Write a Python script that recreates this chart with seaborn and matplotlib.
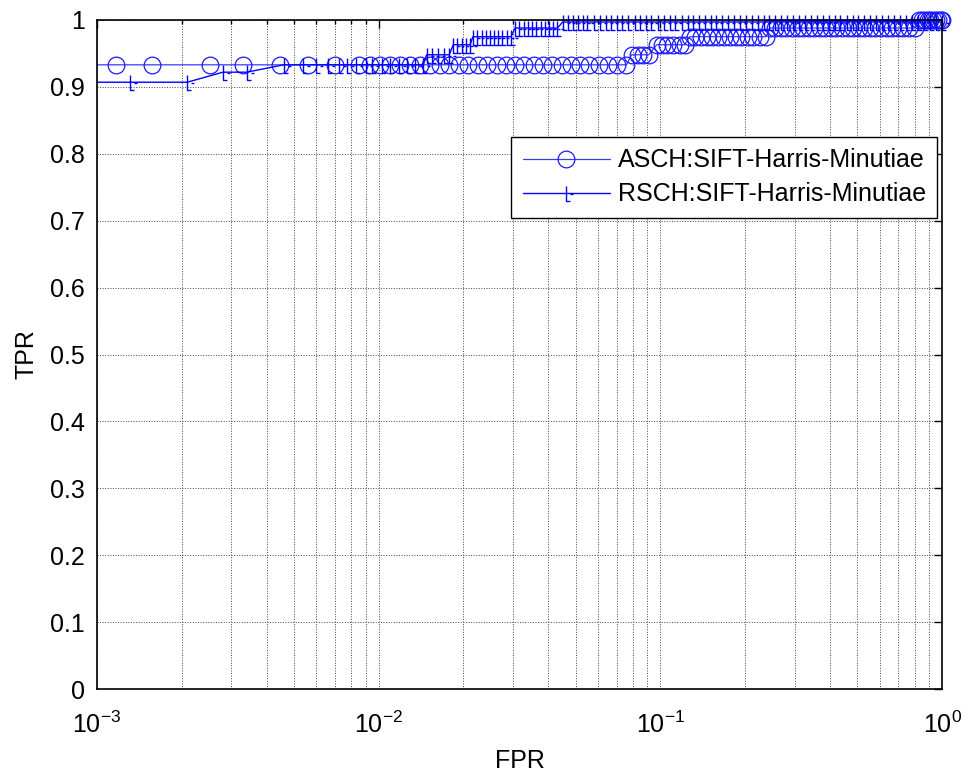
import matplotlib
matplotlib.use("Agg")
import matplotlib.pyplot as plt
from matplotlib.path import Path
import seaborn as sns

# ROC points (FPR on a log axis, TPR linear)
asch_fpr = [0.001, 0.00117, 0.00157, 0.00252, 0.0033, 0.00446, 0.0056, 0.0070, 0.0085,
            0.0093, 0.0101, 0.0110, 0.0119, 0.0129, 0.0140, 0.0152, 0.0165, 0.0178,
            0.0193, 0.0208, 0.0225, 0.0243, 0.0262, 0.0283, 0.0305, 0.0329, 0.0355,
            0.0383, 0.0413, 0.0446, 0.0481, 0.0519, 0.056, 0.0604, 0.0652, 0.0703, 0.0758,
            0.079, 0.083, 0.087, 0.091,
            0.097, 0.101, 0.106, 0.111, 0.117, 0.122,
            0.127, 0.133, 0.139, 0.146, 0.153, 0.160, 0.168, 0.176, 0.185, 0.194, 0.204,
            0.214, 0.225, 0.237,
            0.245, 0.256, 0.268, 0.28, 0.293, 0.307, 0.321, 0.336, 0.352, 0.368, 0.385,
            0.403, 0.422, 0.442, 0.462, 0.484, 0.506, 0.53, 0.555, 0.58, 0.607, 0.636,
            0.665, 0.696, 0.729, 0.763, 0.80,
            0.83, 0.85, 0.87, 0.89, 0.91, 0.93, 0.95, 0.97, 0.99, 1.0]
asch_tpr = ([0.933] * 37 + [0.948] * 4 + [0.963] * 6 + [0.975] * 14
            + [0.988] * 27 + [1.0] * 10)

rsch_fpr = [0.001, 0.00131, 0.00209, 0.0028, 0.0034,
            0.0046, 0.0054, 0.0060, 0.0066, 0.0072, 0.0077, 0.0083, 0.0090, 0.0095,
            0.0103, 0.0110, 0.0118, 0.0126, 0.0135, 0.0144,
            0.0148, 0.0155, 0.0162, 0.0170, 0.0178,
            0.0184, 0.0190, 0.0197, 0.0204, 0.0211,
            0.0216, 0.0224, 0.0232, 0.0240, 0.0248, 0.0257, 0.0266, 0.0275, 0.0285, 0.0295,
            0.0305, 0.0316, 0.0327, 0.0339, 0.0351, 0.0363, 0.0376, 0.0389, 0.0403, 0.0417,
            0.0431,
            0.045, 0.047, 0.049, 0.051, 0.053, 0.055, 0.058, 0.061, 0.064, 0.067, 0.07,
            0.073, 0.077, 0.081, 0.085, 0.089, 0.093, 0.098, 0.103, 0.108, 0.113, 0.119,
            0.125, 0.131, 0.137, 0.144, 0.151, 0.158, 0.166, 0.174, 0.183, 0.192, 0.201,
            0.211, 0.222, 0.233, 0.244, 0.256, 0.269, 0.282, 0.296, 0.311, 0.326, 0.342,
            0.359, 0.377, 0.396, 0.416, 0.436, 0.458, 0.481, 0.505, 0.53, 0.556, 0.584,
            0.613, 0.644, 0.676, 0.71, 0.745, 0.782, 0.821, 0.862, 0.905, 0.95, 1.0]
rsch_tpr = ([0.907] * 3 + [0.922] * 2 + [0.933] * 15 + [0.948] * 5 + [0.963] * 5
            + [0.975] * 10 + [0.988] * 11 + [0.997] * 66)

labels = ["ASCH:SIFT-Harris-Minutiae", "RSCH:SIFT-Harris-Minutiae"]
ytick_labels = ["0", "0.1", "0.2", "0.3", "0.4", "0.5", "0.6", "0.7", "0.8", "0.9", "1"]

sns.set_style("white")
plt.rcParams["font.family"] = ["Liberation Sans", "DejaVu Sans"]
plt.rcParams["mathtext.fontset"] = "custom"
plt.rcParams["mathtext.rm"] = "Liberation Sans"
plt.rcParams["mathtext.it"] = "Liberation Sans"
plt.rcParams["mathtext.default"] = "regular"
for key in ["text.color", "axes.labelcolor", "xtick.color", "ytick.color"]:
    plt.rcParams[key] = "black"

FS = 18

# odd MATLAB-like cross glyph used for the second curve
tick_marker = Path(
    [(0, 0.45), (0, -0.55), (0.25, -0.55), (0.25, -0.05), (0.45, -0.05)],
    [Path.MOVETO, Path.LINETO, Path.LINETO, Path.MOVETO, Path.LINETO],
)

fig = plt.figure(figsize=(9.76, 7.72), dpi=100)
ax = fig.add_axes([0.0994, 0.1075, 0.8658, 0.8666])

sns.lineplot(x=asch_fpr, y=asch_tpr, ax=ax, estimator=None, sort=False,
             color="#3a3aff", linewidth=0.9, marker="o", markersize=12,
             markerfacecolor="none", markeredgecolor="#1a1aff", markeredgewidth=0.9,
             markevery=list(range(1, len(asch_fpr))), clip_on=False, label=labels[0])
sns.lineplot(x=rsch_fpr, y=rsch_tpr, ax=ax, estimator=None, sort=False,
             color="#0000ff", linewidth=1.0, marker=tick_marker, markersize=12,
             markerfacecolor="none", markeredgecolor="#0000ff", markeredgewidth=1.0,
             markevery=list(range(1, len(rsch_fpr))), clip_on=False, label=labels[1])

ax.set_xscale("log")
ax.set_xlim(1e-3, 1)
ax.set_ylim(0, 1)
ax.set_yticks([i / 10 for i in range(11)])
ax.set_yticklabels(ytick_labels)

ax.grid(True, which="major", axis="both", linestyle=":", color="#444444", linewidth=0.7)
ax.grid(True, which="minor", axis="x", linestyle=":", color="#444444", linewidth=0.7)
ax.tick_params(which="both", direction="in", top=True, right=True, labelsize=FS,
               color="black", width=1.0)
ax.tick_params(which="major", length=6)
ax.tick_params(which="minor", length=3)
ax.tick_params(axis="x", which="major", pad=16)
ax.tick_params(axis="y", which="major", pad=9)
for side in ax.spines.values():
    side.set_color("black")
    side.set_linewidth(1.2)

ax.set_xlabel("FPR", fontsize=FS, labelpad=8)
ax.set_ylabel("TPR", fontsize=FS, labelpad=8)

leg = ax.legend(loc="upper right", bbox_to_anchor=(0.994, 0.825), fontsize=FS,
                frameon=True, fancybox=False, framealpha=1, edgecolor="black",
                handlelength=3.5, borderpad=0.45, labelspacing=0.4, handletextpad=0.3,
                borderaxespad=0)
leg.get_frame().set_linewidth(1.0)

fig.savefig("out.png", dpi=100)
